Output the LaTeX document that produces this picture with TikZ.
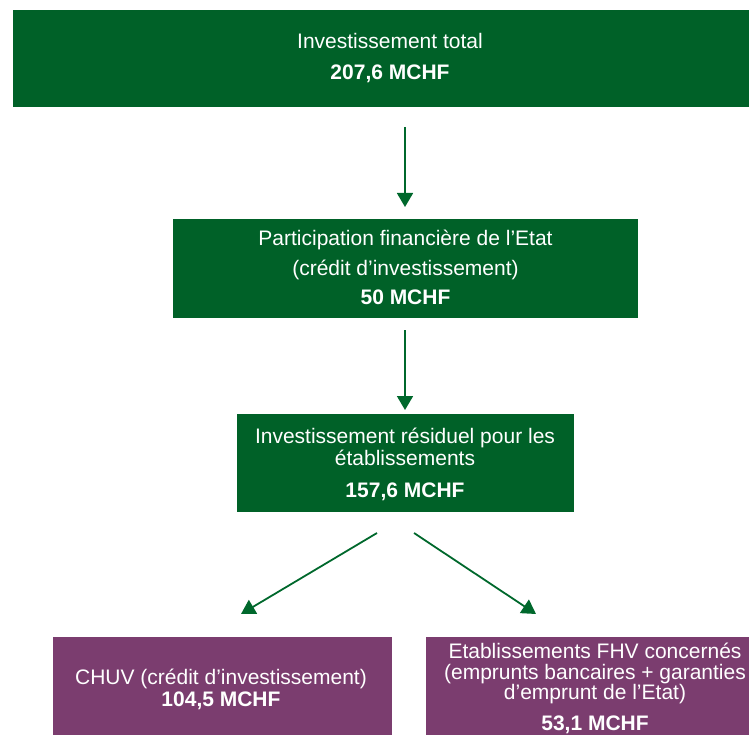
\documentclass[tikz,border=0pt]{standalone}
\usepackage{fontspec}
\setmainfont{Liberation Sans}
\usetikzlibrary{arrows.meta}
\definecolor{boxgreen}{RGB}{0,97,40}
\definecolor{arrgreen}{RGB}{0,104,44}
\definecolor{boxpurple}{RGB}{123,61,111}
\tikzset{
  gbox/.style={fill=boxgreen, draw=none, inner sep=0pt},
  pbox/.style={fill=boxpurple, draw=none, inner sep=0pt},
  txt/.style={anchor=base, inner sep=0pt, text=white, font=\fontsize{21}{22}\selectfont},
  btxt/.style={txt, font=\fontsize{21}{22}\selectfont\bfseries},
  arr/.style={draw=arrgreen, line width=1.8pt, -{Triangle[length=14pt,width=16pt]}}
}
\begin{document}
\begin{tikzpicture}[x=1pt,y=-1pt]
\useasboundingbox (0,0) rectangle (749,735);
% boxes
\node[gbox, minimum width=736pt, minimum height=97pt] (b1) at (381,58.5) {};
\node[gbox, minimum width=465pt, minimum height=99pt] (b2) at (405.5,268.5) {};
\node[gbox, minimum width=337pt, minimum height=98pt] (b3) at (405.5,463) {};
\node[pbox, minimum width=339pt, minimum height=98pt] (b4) at (222.5,686) {};
\node[pbox, minimum width=323pt, minimum height=98pt] (b5) at (587.5,686) {};
% texts
\node[txt] (t1a) at (390,49) {Investissement total};
\node[btxt] (t1b) at (390,80) {207,6 MCHF};
\node[txt] (t2a) at (405.5,246) {Participation financière de l’Etat};
\node[txt] (t2b) at (405.5,275) {(crédit d’investissement)};
\node[btxt] (t2c) at (405.5,304) {50 MCHF};
\node[txt] (t3a) at (405,443) {Investissement résiduel pour les};
\node[txt] (t3b) at (405,465.5) {établissements};
\node[btxt] (t3c) at (405,497) {157,6 MCHF};
\node[txt] (t4a) at (221,684) {CHUV (crédit d’investissement)};
\node[btxt] (t4b) at (221,706) {104,5 MCHF};
\node[txt] (t5a) at (595,658.5) {Etablissements FHV concernés};
\node[txt] (t5b) at (595,679) {(emprunts bancaires + garanties};
\node[txt] (t5c) at (595,699.5) {d’emprunt de l’Etat)};
\node[btxt] (t5d) at (595,730) {53,1 MCHF};
% arrow ends
\coordinate (a1s) at (405,127);
\coordinate (a1e) at (405,207);
\coordinate (a2s) at (405,330);
\coordinate (a2e) at (405,410);
\coordinate (a3s) at (377,533);
\coordinate (a3e) at (241,614);
\coordinate (a4s) at (414,533);
\coordinate (a4e) at (536,614);
\draw[arr] (a1s) -- (a1e);
\draw[arr] (a2s) -- (a2e);
\draw[arr] (a3s) -- (a3e);
\draw[arr] (a4s) -- (a4e);
\end{tikzpicture}
\end{document}
